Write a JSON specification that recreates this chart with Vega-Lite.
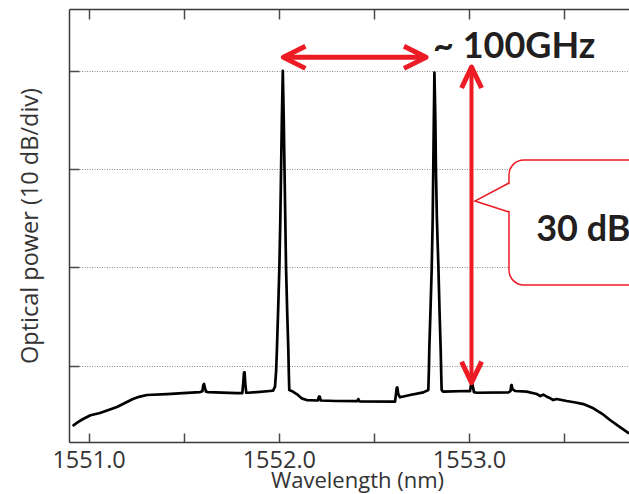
{
  "$schema": "https://vega.github.io/schema/vega-lite/v6.json",
  "width": 560,
  "height": 433,
  "autosize": {"type": "none"},
  "padding": {"left": 69, "top": 9, "right": 0, "bottom": 52},
  "background": "white",
  "config": {
    "view": {"stroke": null},
    "axis": {
      "domainColor": "#3a3a3a",
      "domainWidth": 1.5,
      "tickColor": "#4a4a4a",
      "tickWidth": 1.5,
      "labelFont": "Open Sans",
      "labelFontSize": 23.5,
      "labelColor": "#333333",
      "titleFont": "Open Sans",
      "titleFontSize": 22,
      "titleFontWeight": "normal",
      "titleColor": "#333333"
    }
  },
  "datasets": {
    "spectrum": [
      {"wl": 1550.916, "db": -36.14},
      {"wl": 1550.940, "db": -35.8},
      {"wl": 1550.971, "db": -35.43},
      {"wl": 1551.010, "db": -35.05},
      {"wl": 1551.060, "db": -34.82},
      {"wl": 1551.149, "db": -34.21},
      {"wl": 1551.233, "db": -33.40},
      {"wl": 1551.270, "db": -33.15},
      {"wl": 1551.307, "db": -32.99},
      {"wl": 1551.412, "db": -32.89},
      {"wl": 1551.496, "db": -32.79},
      {"wl": 1551.586, "db": -32.69},
      {"wl": 1551.598, "db": -32.6},
      {"wl": 1551.603, "db": -32.0},
      {"wl": 1551.607, "db": -31.87},
      {"wl": 1551.612, "db": -32.3},
      {"wl": 1551.617, "db": -32.65},
      {"wl": 1551.628, "db": -32.69},
      {"wl": 1551.780, "db": -32.79},
      {"wl": 1551.808, "db": -32.8},
      {"wl": 1551.813, "db": -31.8},
      {"wl": 1551.817, "db": -30.7},
      {"wl": 1551.820, "db": -30.68},
      {"wl": 1551.824, "db": -31.9},
      {"wl": 1551.829, "db": -32.76},
      {"wl": 1551.838, "db": -32.76},
      {"wl": 1551.954, "db": -32.58},
      {"wl": 1551.970, "db": -32.55},
      {"wl": 1551.980, "db": -32.14},
      {"wl": 1551.986, "db": -30.5},
      {"wl": 1551.990, "db": -28.4},
      {"wl": 1551.997, "db": -24.0},
      {"wl": 1552.003, "db": -20.0},
      {"wl": 1552.008, "db": -15.0},
      {"wl": 1552.012, "db": -10.0},
      {"wl": 1552.016, "db": -5.0},
      {"wl": 1552.019, "db": -2.0},
      {"wl": 1552.021, "db": 0.0},
      {"wl": 1552.023, "db": -2.0},
      {"wl": 1552.026, "db": -5.0},
      {"wl": 1552.030, "db": -10.0},
      {"wl": 1552.034, "db": -15.0},
      {"wl": 1552.038, "db": -20.0},
      {"wl": 1552.044, "db": -24.5},
      {"wl": 1552.050, "db": -28.4},
      {"wl": 1552.053, "db": -31.0},
      {"wl": 1552.055, "db": -32.48},
      {"wl": 1552.070, "db": -32.6},
      {"wl": 1552.094, "db": -32.89},
      {"wl": 1552.120, "db": -33.33},
      {"wl": 1552.147, "db": -33.50},
      {"wl": 1552.205, "db": -33.55},
      {"wl": 1552.211, "db": -33.15},
      {"wl": 1552.215, "db": -33.15},
      {"wl": 1552.221, "db": -33.55},
      {"wl": 1552.300, "db": -33.6},
      {"wl": 1552.412, "db": -33.62},
      {"wl": 1552.418, "db": -33.40},
      {"wl": 1552.424, "db": -33.63},
      {"wl": 1552.611, "db": -33.67},
      {"wl": 1552.616, "db": -32.9},
      {"wl": 1552.620, "db": -32.25},
      {"wl": 1552.623, "db": -32.21},
      {"wl": 1552.628, "db": -32.9},
      {"wl": 1552.637, "db": -33.22},
      {"wl": 1552.690, "db": -32.99},
      {"wl": 1552.760, "db": -32.72},
      {"wl": 1552.786, "db": -32.48},
      {"wl": 1552.789, "db": -30.5},
      {"wl": 1552.791, "db": -28.4},
      {"wl": 1552.798, "db": -24.0},
      {"wl": 1552.804, "db": -20.0},
      {"wl": 1552.809, "db": -15.0},
      {"wl": 1552.812, "db": -10.0},
      {"wl": 1552.815, "db": -5.0},
      {"wl": 1552.817, "db": -2.0},
      {"wl": 1552.818, "db": -0.2},
      {"wl": 1552.820, "db": -2.0},
      {"wl": 1552.823, "db": -5.0},
      {"wl": 1552.826, "db": -10.0},
      {"wl": 1552.831, "db": -15.0},
      {"wl": 1552.839, "db": -20.0},
      {"wl": 1552.845, "db": -24.5},
      {"wl": 1552.851, "db": -28.4},
      {"wl": 1552.854, "db": -31.0},
      {"wl": 1552.856, "db": -32.48},
      {"wl": 1552.865, "db": -32.65},
      {"wl": 1552.988, "db": -32.58},
      {"wl": 1553.005, "db": -32.6},
      {"wl": 1553.011, "db": -31.9},
      {"wl": 1553.015, "db": -31.64},
      {"wl": 1553.019, "db": -32.0},
      {"wl": 1553.026, "db": -32.7},
      {"wl": 1553.040, "db": -32.76},
      {"wl": 1553.207, "db": -32.72},
      {"wl": 1553.218, "db": -32.6},
      {"wl": 1553.222, "db": -32.0},
      {"wl": 1553.224, "db": -31.97},
      {"wl": 1553.228, "db": -32.4},
      {"wl": 1553.242, "db": -32.58},
      {"wl": 1553.303, "db": -32.65},
      {"wl": 1553.356, "db": -32.89},
      {"wl": 1553.375, "db": -33.1},
      {"wl": 1553.390, "db": -32.95},
      {"wl": 1553.409, "db": -33.16},
      {"wl": 1553.425, "db": -33.3},
      {"wl": 1553.443, "db": -33.50},
      {"wl": 1553.460, "db": -33.4},
      {"wl": 1553.514, "db": -33.60},
      {"wl": 1553.560, "db": -33.75},
      {"wl": 1553.601, "db": -33.91},
      {"wl": 1553.654, "db": -34.34},
      {"wl": 1553.700, "db": -34.9},
      {"wl": 1553.741, "db": -35.53},
      {"wl": 1553.790, "db": -36.2},
      {"wl": 1553.841, "db": -36.9}
    ],
    "arrows": [
      {"seg": "h", "o": 1, "wl": 1552.024, "db": 1.36, "w": 5},
      {"seg": "h", "o": 2, "wl": 1552.774, "db": 1.36, "w": 5},
      {"seg": "hl", "o": 1, "wl": 1552.140, "db": 2.48, "w": 5},
      {"seg": "hl", "o": 2, "wl": 1552.024, "db": 1.36, "w": 5},
      {"seg": "hl", "o": 3, "wl": 1552.140, "db": 0.24, "w": 5},
      {"seg": "hr", "o": 1, "wl": 1552.658, "db": 2.48, "w": 5},
      {"seg": "hr", "o": 2, "wl": 1552.774, "db": 1.36, "w": 5},
      {"seg": "hr", "o": 3, "wl": 1552.658, "db": 0.24, "w": 5},
      {"seg": "v", "o": 1, "wl": 1553.013, "db": 0.38, "w": 4},
      {"seg": "v", "o": 2, "wl": 1553.013, "db": -31.74, "w": 4},
      {"seg": "vt", "o": 1, "wl": 1552.961, "db": -1.76, "w": 5},
      {"seg": "vt", "o": 2, "wl": 1553.013, "db": 0.38, "w": 5},
      {"seg": "vt", "o": 3, "wl": 1553.066, "db": -1.76, "w": 5},
      {"seg": "vb", "o": 1, "wl": 1552.961, "db": -29.6, "w": 5},
      {"seg": "vb", "o": 2, "wl": 1553.013, "db": -31.74, "w": 5},
      {"seg": "vb", "o": 3, "wl": 1553.066, "db": -29.6, "w": 5}
    ],
    "box": [
      {"x1": 1553.210, "x2": 1554.300, "y1": -9.08, "y2": -21.8}
    ],
    "pointer": [
      {"o": 1, "wl": 1553.210, "db": -11.42},
      {"o": 2, "wl": 1553.031, "db": -13.26},
      {"o": 3, "wl": 1553.210, "db": -14.37}
    ],
    "gap": [
      {"wl": 1553.210, "y1": -11.55, "y2": -14.25}
    ],
    "notes": [
      {"wl": 1552.811, "db": 1.29, "text": "~ 100GHz"},
      {"wl": 1553.353, "db": -17.29, "text": "30 dB"}
    ]
  },
  "layer": [
    {
      "data": {"name": "spectrum"},
      "mark": {"type": "line", "color": "black", "strokeWidth": 2.7, "strokeJoin": "round"},
      "encoding": {
        "x": {
          "field": "wl", "type": "quantitative",
          "scale": {"domain": [1550.897, 1553.841], "nice": false, "zero": false},
          "axis": {
            "orient": "bottom",
            "values": [1551, 1551.5, 1552, 1552.5, 1553, 1553.5],
            "labelExpr": "datum.value % 1 == 0 ? format(datum.value, '.1f') : ''",
            "tickSize": -9,
            "labelPadding": 15,
            "labelFlush": false,
            "labelOverlap": false,
            "grid": false,
            "title": "Wavelength (nm)",
            "titleX": 288,
            "titlePadding": -1
          }
        },
        "y": {
          "field": "db", "type": "quantitative",
          "scale": {"domain": [-37.77, 6.28], "nice": false, "zero": false},
          "axis": {
            "orient": "left",
            "values": [0, -10, -20, -30],
            "labels": false,
            "tickSize": -10,
            "grid": true,
            "gridColor": "#8c8c8c",
            "gridDash": [1, 1.5],
            "gridWidth": 1,
            "title": "Optical power (10 dB/div)",
            "titleFontSize": 23.5,
            "titlePadding": 26
          }
        },
        "order": {"field": "wl", "type": "quantitative"}
      }
    },
    {
      "data": {"name": "spectrum"},
      "mark": {"type": "line", "opacity": 0},
      "encoding": {
        "x": {
          "field": "wl", "type": "quantitative",
          "axis": {
            "orient": "top",
            "values": [1551, 1551.5, 1552, 1552.5, 1553, 1553.5],
            "labels": false,
            "tickSize": -10,
            "grid": false,
            "title": null
          }
        },
        "y": {"field": "db", "type": "quantitative"}
      }
    },
    {
      "data": {"name": "box"},
      "mark": {"type": "rect", "fill": "white", "stroke": "#ed1c24", "strokeWidth": 1.5, "cornerRadius": 15},
      "encoding": {
        "x": {"field": "x1", "type": "quantitative", "axis": null},
        "x2": {"field": "x2"},
        "y": {"field": "y1", "type": "quantitative"},
        "y2": {"field": "y2"}
      }
    },
    {
      "data": {"name": "gap"},
      "mark": {"type": "rule", "color": "white", "strokeWidth": 3},
      "encoding": {
        "x": {"field": "wl", "type": "quantitative", "axis": null},
        "y": {"field": "y1", "type": "quantitative"},
        "y2": {"field": "y2"}
      }
    },
    {
      "data": {"name": "pointer"},
      "mark": {"type": "line", "color": "#ed1c24", "strokeWidth": 1.5},
      "encoding": {
        "x": {"field": "wl", "type": "quantitative", "axis": null},
        "y": {"field": "db", "type": "quantitative"},
        "order": {"field": "o", "type": "quantitative"}
      }
    },
    {
      "data": {"name": "arrows"},
      "mark": {"type": "line", "color": "#ed1c24", "strokeJoin": "round", "strokeCap": "butt"},
      "encoding": {
        "x": {"field": "wl", "type": "quantitative", "axis": null},
        "y": {"field": "db", "type": "quantitative"},
        "detail": {"field": "seg"},
        "order": {"field": "o", "type": "quantitative"},
        "strokeWidth": {"field": "w", "type": "quantitative", "scale": null}
      }
    },
    {
      "data": {"name": "notes"},
      "mark": {"type": "text", "font": "Lato", "fontWeight": "bold", "fontSize": 36, "align": "left", "baseline": "alphabetic", "color": "#231f20"},
      "encoding": {
        "x": {"field": "wl", "type": "quantitative", "axis": null},
        "y": {"field": "db", "type": "quantitative"},
        "text": {"field": "text"}
      }
    }
  ]
}
